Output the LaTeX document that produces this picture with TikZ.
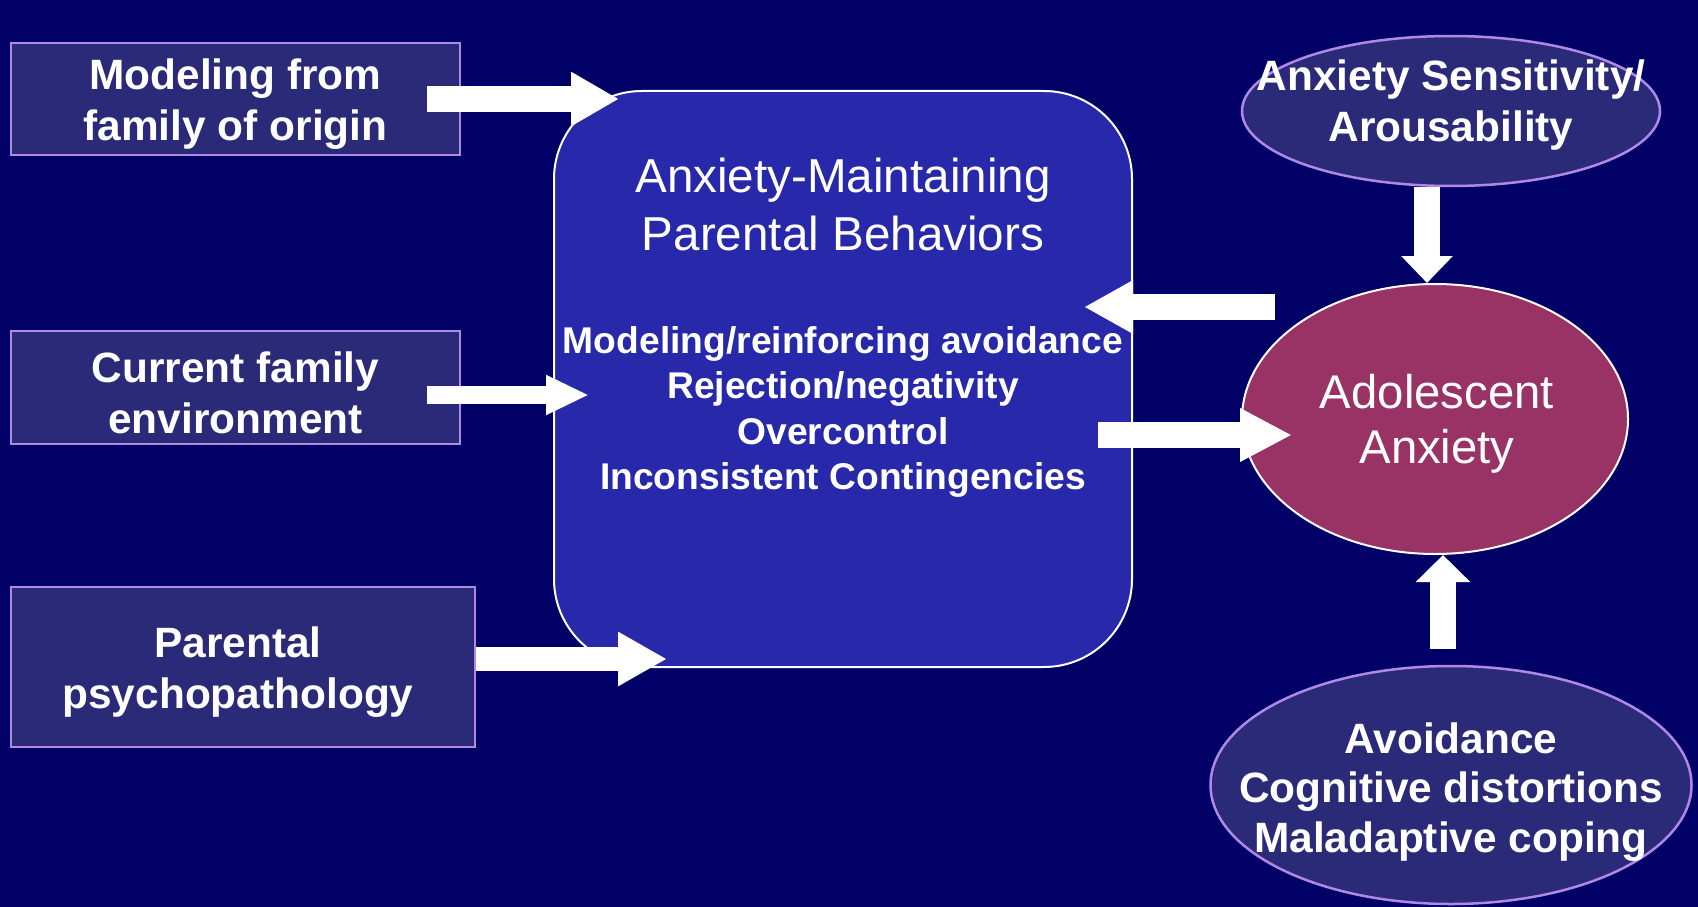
\documentclass[tikz,border=0pt]{standalone}
\usepackage{fontspec}
\setmainfont{Liberation Sans}
\usetikzlibrary{shapes.geometric,arrows.meta,calc}
\definecolor{bgnavy}{RGB}{0,0,102}
\definecolor{boxfill}{RGB}{42,42,120}
\definecolor{lavender}{RGB}{176,136,230}
\definecolor{centerfill}{RGB}{40,40,170}
\definecolor{maroon}{RGB}{153,51,102}
\tikzset{
  inbox/.style={rectangle, fill=boxfill, draw=lavender, line width=2.5pt, inner sep=0pt},
  lavell/.style={ellipse, fill=boxfill, draw=lavender, line width=2.5pt, inner sep=0pt},
  btext/.style={text=white, align=center, font=\bfseries\fontsize{42.4}{51}\selectfont},
  rtext/.style={text=white, align=center, font=\fontsize{47.6}{58}\selectfont},
  ltext/.style={text=white, align=center, font=\bfseries\fontsize{37.2}{45.5}\selectfont},
  barrow/.style={draw=white, line width=#1}
}
\begin{document}
\begin{tikzpicture}[x=1pt,y=-1pt]
\fill[bgnavy] (0,0) rectangle (1698,907);
\useasboundingbox (0,0) rectangle (1698,907);
% input boxes
\node[inbox, minimum width=449pt, minimum height=112pt] (b1) at (235.5,99) {};
\node[inbox, minimum width=449pt, minimum height=113pt] (b2) at (235.5,387.5) {};
\node[inbox, minimum width=464pt, minimum height=160pt] (b3) at (243,667) {};
\node[btext] (t1) at (235.5,104) {Modeling from\\family of origin};
\node[btext] (t2) at (235.5,393) {Current family\\environment};
\node[btext] (t3) at (238,672) {Parental\\psychopathology};
% central box
\node[rectangle, rounded corners=88pt, fill=centerfill, draw=white, line width=2pt,
      minimum width=578pt, minimum height=576pt] (pb) at (843,379) {};
\node[rtext] (pbt) at (843,204) {Anxiety-Maintaining\\Parental Behaviors};
\node[ltext] (pbl) at (843,412) {Modeling/reinforcing avoidance\\Rejection/negativity\\Overcontrol\\Inconsistent Contingencies};
% right side ellipses
\node[lavell, minimum width=418pt, minimum height=150pt] (as) at (1451,111) {};
\node[btext] (ast) at (1451,105) {Anxiety Sensitivity/\\Arousability};
\node[ellipse, fill=maroon, draw=white, line width=2pt, inner sep=0pt,
      minimum width=386pt, minimum height=270pt] (aa) at (1435,419) {};
\node[rtext, font=\fontsize{47.3}{55}\selectfont] (aat) at (1437,424) {Adolescent\\Anxiety};
\node[lavell, minimum width=481pt, minimum height=238pt] (av) at (1451,785) {};
\node[btext, font=\bfseries\fontsize{42.4}{49.5}\selectfont] (avt) at (1451,792) {Avoidance\\Cognitive distortions\\Maladaptive coping};
% block arrows
\draw[barrow=25pt, -{Triangle[width=51pt,length=48pt]}]
  ($(b1.east)+(-34,0)$) -- ($(b1.east -| pb.west)+(66,0)$);
\draw[barrow=18pt, -{Triangle[width=37pt,length=43pt]}]
  ($(b2.east)+(-34,7.5)$) -- ($(b2.east -| pb.west)+(36,7.5)$);
\draw[barrow=24pt, -{Triangle[width=51pt,length=49pt]}]
  ($(b3.east)+(0,-8)$) -- ($(b3.east -| pb.west)+(114,-8)$);
\draw[barrow=26pt, -{Triangle[width=50pt,length=49pt]}]
  ($(aa.west)+(34,-112)$) -- ($(pb.east)+(-49,-72)$);
\draw[barrow=26pt, -{Triangle[width=50pt,length=52pt]}]
  ($(pb.east)+(-35,56)$) -- ($(aa.west)+(51,16)$);
\draw[barrow=26pt, -{Triangle[width=50pt,length=27pt]}]
  ($(as.south)+(-24,0)$) -- ($(aa.north)+(-8,0)$);
\draw[barrow=26pt, -{Triangle[width=53pt,length=27pt]}]
  ($(av.north)+(-8,-16)$) -- ($(aa.south)+(8,0)$);
\end{tikzpicture}
\end{document}
